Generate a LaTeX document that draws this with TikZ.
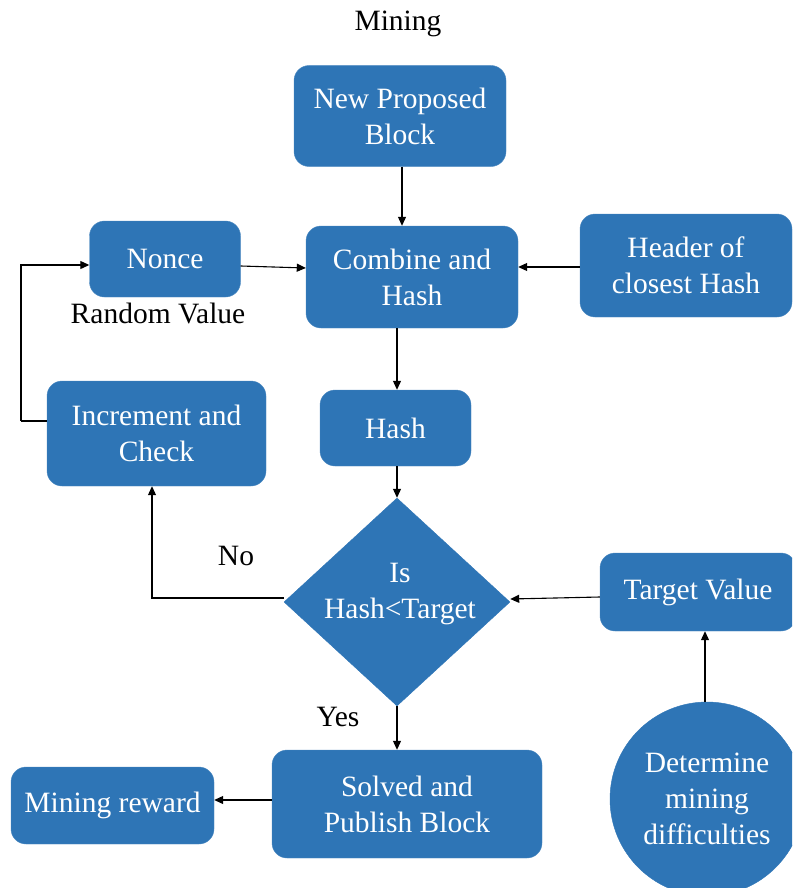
\documentclass[tikz,border=0pt]{standalone}
\usepackage{fontspec}
\setmainfont{LiberationSerif}[Extension=.ttf, UprightFont=*-Regular, BoldFont=*-Bold]
\usetikzlibrary{shapes.geometric,arrows.meta}
\definecolor{boxblue}{HTML}{2E75B6}
\begin{document}
\begin{tikzpicture}[x=1pt,y=-1pt,
  every node/.style={font=\fontsize{29.5}{36}\selectfont},
  box/.style={draw=boxblue!85!white, fill=boxblue, rounded corners=15pt,
    text=white, align=center, inner sep=0pt},
  lbl/.style={text=black, inner sep=0pt},
  arr/.style={draw=black, line width=1.1pt, -{Triangle[length=9pt,width=8pt]}},
  ln/.style={draw=black, line width=1.1pt}]
\useasboundingbox (0,0) rectangle (792,888);
\clip (0,0) rectangle (792,888);

% title
\node[lbl] (title) at (398,24) {Mining};

% process boxes
\node[box, minimum width=212, minimum height=101] (npb) at (400,116) {New Proposed\\Block};
\node[box, minimum width=212, minimum height=102] (comb) at (412,277) {Combine and\\Hash};
\node[box, minimum width=151, minimum height=76] (nonce) at (165,259) {Nonce};
\node[lbl] (rand) at (158,313) {Random Value};
\node[box, minimum width=212, minimum height=103] (header) at (686,265.5) {Header of\\closest Hash};
\node[box, minimum width=219, minimum height=105] (incr) at (156.5,433.5) {Increment and\\Check};
\node[box, minimum width=151, minimum height=76] (hash) at (395.5,428) {Hash};
\node[diamond, draw=boxblue, fill=boxblue, minimum width=226, minimum height=208, inner sep=0pt] (dec) at (397,602) {};
\node[text=white, align=center, inner sep=0pt] (dectxt) at (400,594) {Is\\Hash<Target};
\node[box, minimum width=196, minimum height=78] (target) at (698,592) {Target Value};
\node[circle, draw=boxblue, fill=boxblue, minimum size=194, inner sep=0pt, text=white, align=center] (diff) at (707,799) {Determine\\mining\\difficulties};
\node[box, minimum width=270, minimum height=108] (solved) at (407,804) {Solved and\\Publish Block};
\node[box, minimum width=203, minimum height=77] (reward) at (112.5,805.5) {Mining reward};

% decision labels
\node[lbl] (no) at (236,556) {No};
\node[lbl] (yes) at (338,717) {Yes};

% loop corners on the left
\coordinate (loopA) at (21,421);
\coordinate (loopB) at (21,265);

% connectors
\draw[arr] (npb.south -| 402,0) -- (comb.north -| 402,0);
\draw[arr] (nonce.east |- 0,266) -- (comb.west |- 0,268);
\draw[arr] (header.west |- 0,267) -- (comb.east |- 0,267);
\draw[arr] (comb.south -| 397,0) -- (hash.north -| 397,0);
\draw[arr] (hash.south -| dec.north) -- (dec.north);
\draw[arr] ([yshift=4pt]dec.west) -| (incr.south -| 152,0);
\draw[ln] (incr.west |- 0,421) -- (loopA);
\draw[arr] (loopA) -- (loopB) -- (nonce.west |- 0,265);
\draw[arr] (target.west |- 0,597) -- ([yshift=3pt]dec.east);
\draw[arr] (diff.north -| 705,0) -- (target.south -| 705,0);
\draw[arr] (dec.south) -- (solved.north -| dec.south);
\draw[arr] (solved.west |- 0,800) -- (reward.east |- 0,800);
\end{tikzpicture}
\end{document}
